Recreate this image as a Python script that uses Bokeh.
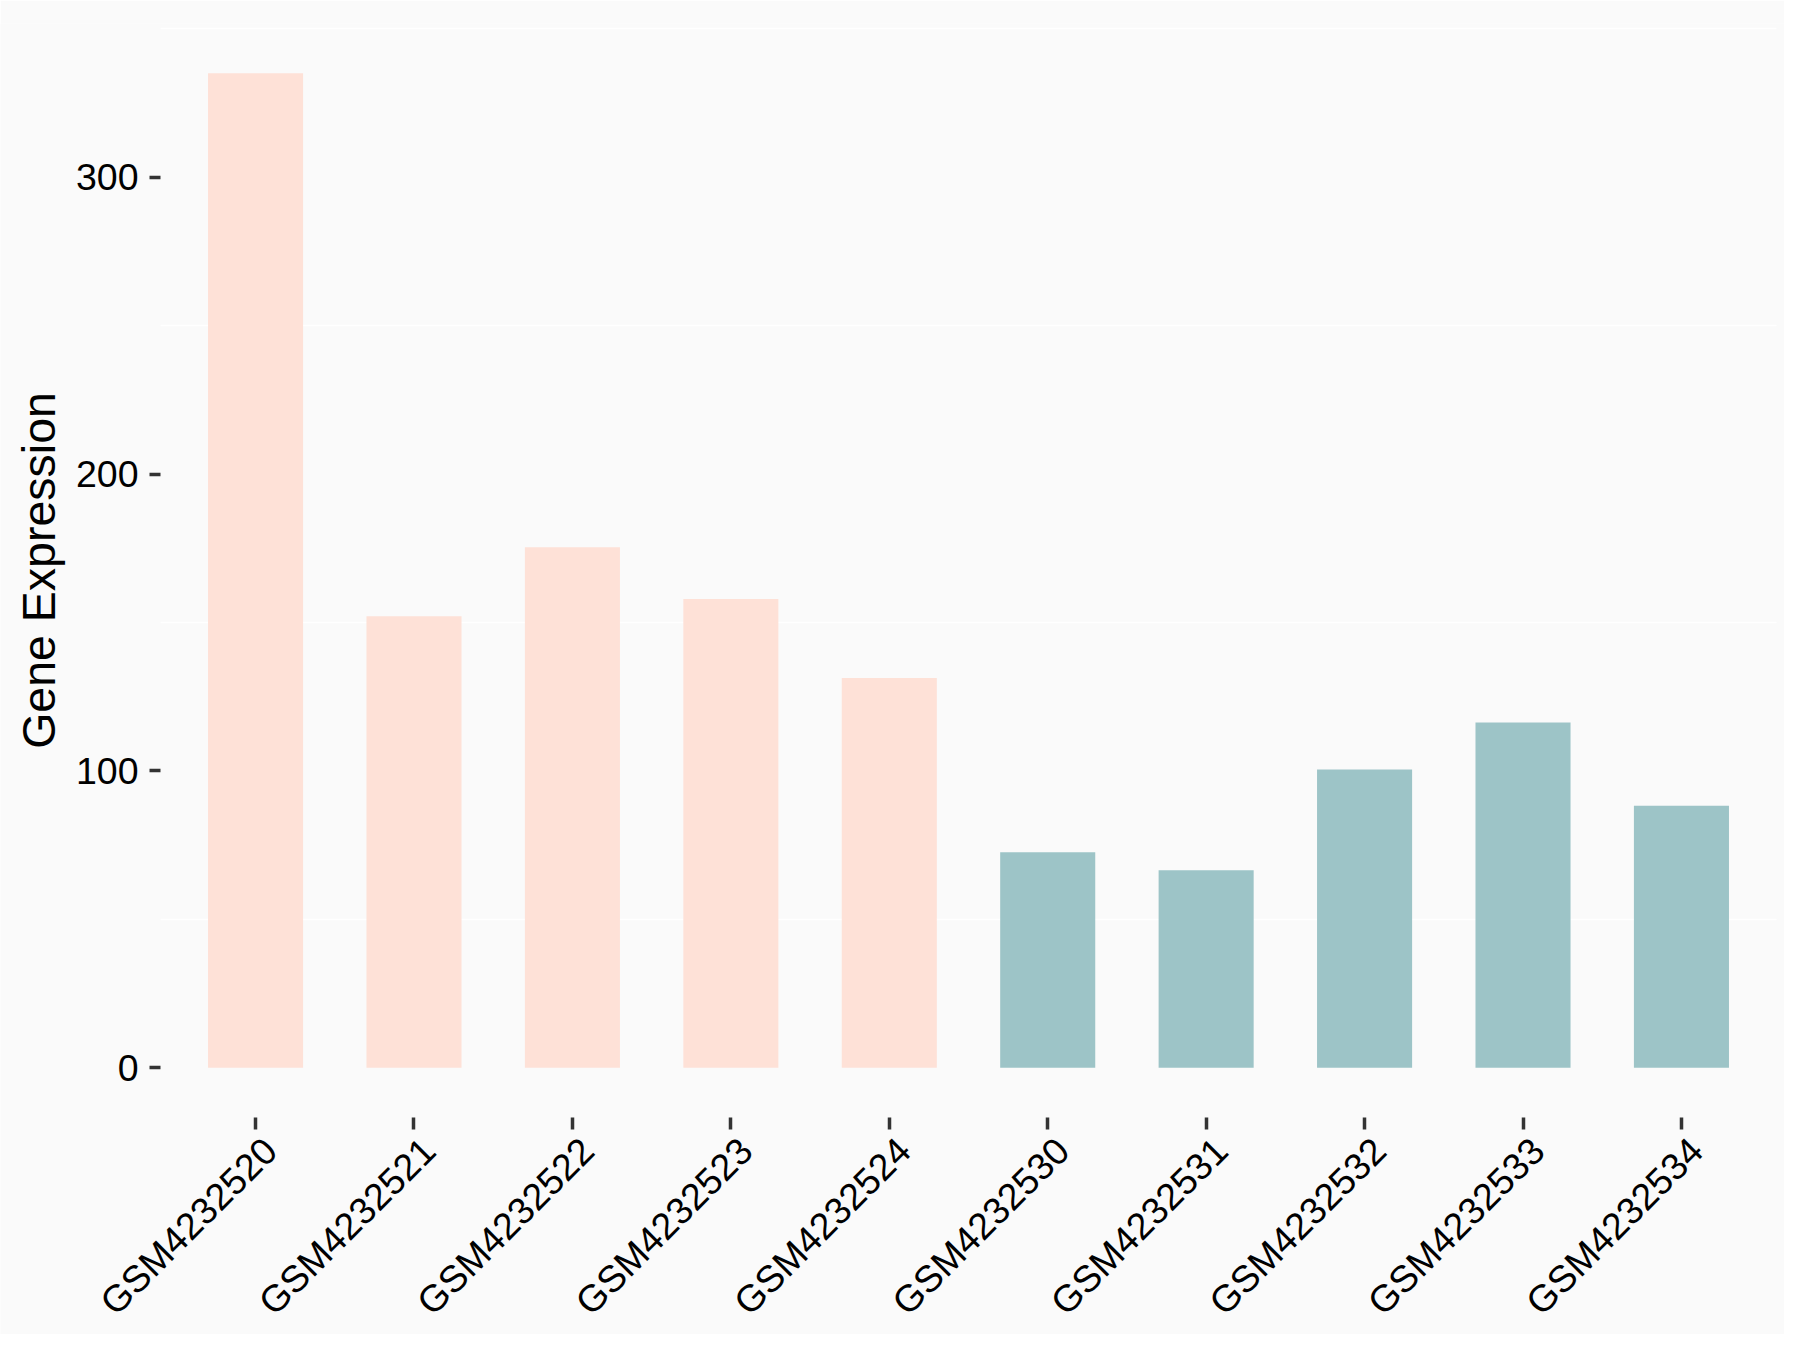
import math
from bokeh.plotting import figure
from bokeh.models import Range1d, FixedTicker, ColumnDataSource, LabelSet, Label
from bokeh.core.properties import value
from bokeh.embed import file_html
from bokeh.resources import INLINE

samples = ["GSM4232520", "GSM4232521", "GSM4232522", "GSM4232523", "GSM4232524",
           "GSM4232530", "GSM4232531", "GSM4232532", "GSM4232533", "GSM4232534"]
expression = [335.0, 152.1, 175.3, 157.9, 131.3, 72.6, 66.5, 100.5, 116.3, 88.3]
group = ["A", "A", "A", "A", "A", "B", "B", "B", "B", "B"]
group_colors = {"A": "#FEE1D7", "B": "#9DC4C7"}
y_ticks = [0, 100, 200, 300]
grid_ticks = [50, 150, 250, 350]
y_title = "Gene Expression"

# ---- layout (pixels) ----
W, H = 1784, 1334
PANEL_LEFT, PANEL_RIGHT = 160.0, 1776.0     # original data panel, x
PANEL_TOP, PANEL_BOTTOM = 23.0, 1117.0      # original data panel, y
n = len(samples)
pos = list(range(n))                        # category slots
x_lo, x_hi = -0.6, (n - 1) + 0.6            # discrete expansion of the panel
y_min, y_max = -16.75, 351.75               # continuous expansion of the panel

# the frame covers the whole canvas so that rotated labels are not clipped
ux = (PANEL_RIGHT - PANEL_LEFT) / (x_hi - x_lo)
uy = (PANEL_BOTTOM - PANEL_TOP) / (y_max - y_min)
x_start = x_lo - PANEL_LEFT / ux
x_end = x_hi + (W - PANEL_RIGHT) / ux
y_start = y_max - (H - PANEL_TOP) / uy

src = ColumnDataSource(dict(
    x=pos, name=samples, top=expression,
    color=[group_colors[g] for g in group],
    label_y=[y_min] * n,
))

FONT = "Liberation Sans"
BG = "#FAFAFA"
TICK_FS = "37.5px"
TITLE_FS = "46.5px"

p = figure(
    width=W, height=H,
    x_range=Range1d(x_start, x_end),
    y_range=Range1d(y_start, y_max),
    output_backend="svg", toolbar_location=None,
    min_border_left=0, min_border_right=0, min_border_top=int(PANEL_TOP), min_border_bottom=0,
)
p.background_fill_color = BG
p.border_fill_color = BG
p.outline_line_color = None

# grid (only the minor positions are visible in the original)
p.xgrid.grid_line_color = None
p.ygrid.ticker = FixedTicker(ticks=grid_ticks)
p.ygrid.grid_line_color = "white"
p.ygrid.grid_line_width = 1.5
if "cross_bounds" in p.ygrid[0].properties():
    p.ygrid.cross_bounds = (x_lo, x_hi)
else:
    p.ygrid.grid_line_color = None
    p.segment(x0=[x_lo] * len(grid_ticks), x1=[x_hi] * len(grid_ticks),
              y0=grid_ticks, y1=grid_ticks, line_color="white", line_width=1.5)

p.vbar(x="x", top="top", bottom=0, width=0.6, fill_color="color", line_color=None, source=src)

for ax in (p.xaxis[0], p.yaxis[0]):
    ax.axis_line_color = None
    ax.major_tick_in = 0
    ax.major_tick_out = 11
    ax.major_tick_line_color = "#333333"
    ax.major_tick_line_width = 3.5
    ax.minor_tick_line_color = None
    ax.major_label_text_font = FONT
    ax.major_label_text_font_size = TICK_FS
    ax.major_label_text_color = "black"

# y axis at the left edge of the data panel
p.yaxis.fixed_location = x_lo
p.yaxis.ticker = FixedTicker(ticks=y_ticks)
p.yaxis.major_label_standoff = 11

# x axis at the bottom edge of the data panel
p.xaxis.fixed_location = y_min
p.xaxis.ticker = FixedTicker(ticks=pos)
p.xaxis.major_tick_out = 12
p.xaxis.major_label_overrides = {i: s for i, s in zip(pos, samples)}
p.xaxis.major_label_text_color = None

# rotated x tick labels, anchored at their top-right corner
labels = LabelSet(
    x="x", y="label_y", text="name", source=src,
    angle=math.pi / 4, text_align="right", text_baseline="top",
    x_offset=0, y_offset=-12,
    text_font=value(FONT), text_font_size=TICK_FS, text_color="black",
)
p.add_layout(labels)

# y axis title, centred on the data panel
title = Label(
    x=x_lo, y=(y_min + y_max) / 2, text=y_title,
    x_offset=-122, angle=math.pi / 2,
    text_align="center", text_baseline="alphabetic",
    text_font=FONT, text_font_size=TITLE_FS, text_color="black",
)
p.add_layout(title)

open("out.html", "w").write(file_html(p, INLINE))
